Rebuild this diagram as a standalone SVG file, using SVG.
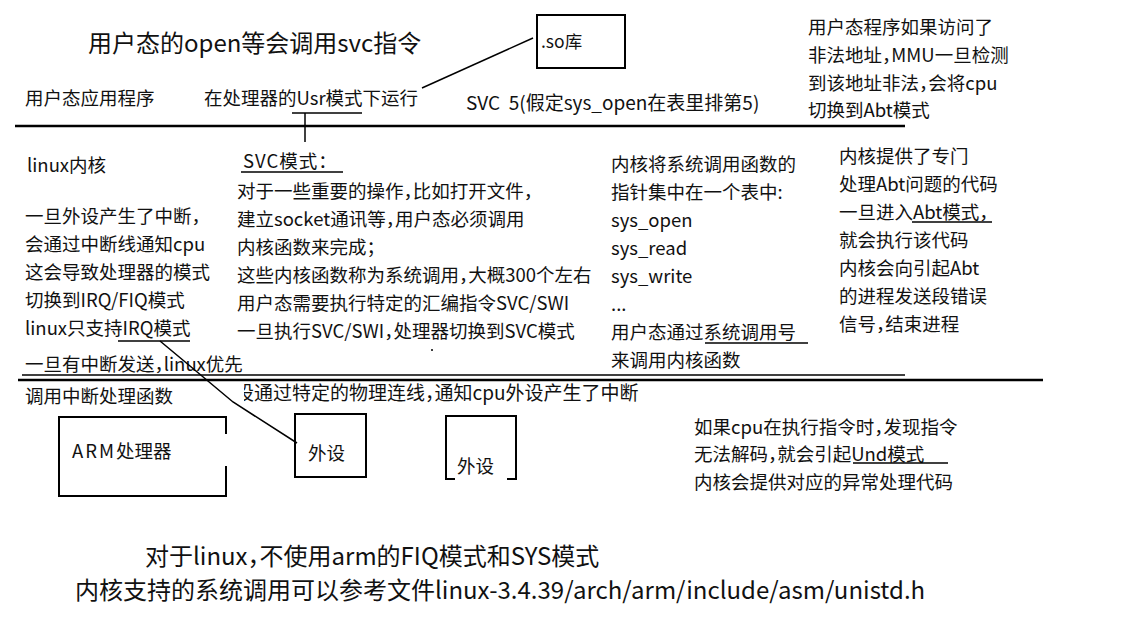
<svg xmlns="http://www.w3.org/2000/svg" width="1141" height="635" viewBox="0 0 1141 635">
<style>
text{font-family:"Noto Sans CJK SC","Noto Sans",sans-serif;fill:#111;font-size:18.5px;font-feature-settings:"halt"}
.big{font-size:24px}
.small{font-size:17.5px}
.wide{font-size:19px}
.ln{stroke:#000;fill:none;stroke-width:1.5}
.hl{stroke:#000;fill:none;stroke-width:2.5}
.box{stroke:#000;fill:none;stroke-width:2}
</style>
<defs>
<clipPath id="clipDev"><rect x="244" y="380" width="420" height="30"/></clipPath>
</defs>
<rect width="1141" height="635" fill="#fff"/>

<g id="dividers">
<line class="hl" x1="15" y1="126" x2="905" y2="126"/>
<line class="ln" x1="22" y1="375" x2="905" y2="375"/>
<line class="hl" x1="18" y1="380" x2="1043" y2="380"/>
</g>

<g id="title"><text class="big" x="88" y="52">用户态的open等会调用svc指令</text></g>

<g id="so-lib">
<rect class="box" x="537" y="15" width="88" height="53"/>
<text class="small" x="541" y="48">.so库</text>
</g>

<g id="user-app"><text x="25" y="105">用户态应用程序</text></g>
<g id="usr-mode">
<text x="204" y="105">在处理器的Usr模式下运行</text>
<line class="ln" x1="292" y1="113" x2="362" y2="113"/>
</g>
<g id="svc5"><text class="wide" x="466" y="110">SVC&#160;&#160;5(假定sys_open在表里排第5)</text></g>

<g id="mmu-note">
<text x="808" y="34">用户态程序如果访问了</text>
<text x="808" y="62">非法地址，MMU一旦检测</text>
<text x="808" y="90">到该地址非法，会将cpu</text>
<text x="808" y="117">切换到Abt模式</text>
</g>

<g id="kernel-irq">
<text x="27" y="172">linux内核</text>
<text x="25" y="223">一旦外设产生了中断，</text>
<text x="25" y="251">会通过中断线通知cpu</text>
<text x="25" y="279">这会导致处理器的模式</text>
<text x="25" y="307">切换到IRQ/FIQ模式</text>
<text x="25" y="335">linux只支持IRQ模式</text>
<line class="ln" x1="118" y1="341" x2="190" y2="341"/>
<text x="25" y="371">一旦有中断发送，linux优先</text>
<text x="25" y="403">调用中断处理函数</text>
</g>

<g id="svc-mode">
<text x="243" y="168" letter-spacing="1">SVC模式：</text>
<line class="ln" x1="241" y1="172" x2="343" y2="172"/>
<text x="237" y="198">对于一些重要的操作，比如打开文件，</text>
<text x="237" y="226">建立socket通讯等，用户态必须调用</text>
<text x="237" y="254">内核函数来完成；</text>
<text x="237" y="282">这些内核函数称为系统调用，大概300个左右</text>
<text x="237" y="310">用户态需要执行特定的汇编指令SVC/SWI</text>
<text x="237" y="338">一旦执行SVC/SWI，处理器切换到SVC模式</text>
<circle cx="432" cy="350" r="1" fill="#000"/>
</g>

<g id="syscall-table">
<text x="611" y="171">内核将系统调用函数的</text>
<text x="611" y="199">指针集中在一个表中:</text>
<text x="611" y="227">sys_open</text>
<text x="611" y="255">sys_read</text>
<text x="611" y="283">sys_write</text>
<text x="611" y="311">...</text>
<text x="611" y="339">用户态通过系统调用号</text>
<line class="ln" x1="705" y1="343" x2="808" y2="343"/>
<text x="611" y="367">来调用内核函数</text>
</g>

<g id="abt-handler">
<text x="839" y="163">内核提供了专门</text>
<text x="839" y="191">处理Abt问题的代码</text>
<text x="839" y="219">一旦进入Abt模式，</text>
<line class="ln" x1="912" y1="222" x2="992" y2="222"/>
<text x="839" y="247">就会执行该代码</text>
<text x="839" y="275">内核会向引起Abt</text>
<text x="839" y="303">的进程发送段错误</text>
<text x="839" y="331">信号，结束进程</text>
</g>

<g id="dev-line"><text class="wide" x="235" y="400" clip-path="url(#clipDev)">设通过特定的物理连线，通知cpu外设产生了中断</text></g>

<g id="arm">
<path class="box" d="M226,434 V417 H59 V496 H226 V466"/>
<text x="72" y="458"><tspan letter-spacing="2">ARM</tspan>处理器</text>
</g>

<g id="dev1">
<rect class="box" x="295" y="414" width="71" height="63"/>
<text x="308" y="460">外设</text>
</g>
<g id="dev2">
<path class="box" d="M455,479 H446 V416 H516 V479 H507"/>
<text x="457" y="473">外设</text>
</g>

<g id="und-note">
<text x="694" y="434">如果cpu在执行指令时，发现指令</text>
<text x="694" y="461">无法解码，就会引起Und模式</text>
<line class="ln" x1="853" y1="463" x2="948" y2="463"/>
<text x="694" y="489">内核会提供对应的异常处理代码</text>
</g>

<g id="footer">
<text class="big" x="145" y="565">对于linux，不使用arm的FIQ模式和SYS模式</text>
<text class="big" x="75" y="599">内核支持的系统调用可以参考文件linux-3.4.39/arch/arm/include/asm/unistd.h</text>
</g>

<g id="connectors">
<line class="ln" x1="422" y1="88" x2="533" y2="38"/>
<line class="ln" x1="305" y1="113" x2="305" y2="142"/>
<polyline class="ln" points="160,341 190,366 233,402 297,443"/>
</g>
</svg>
